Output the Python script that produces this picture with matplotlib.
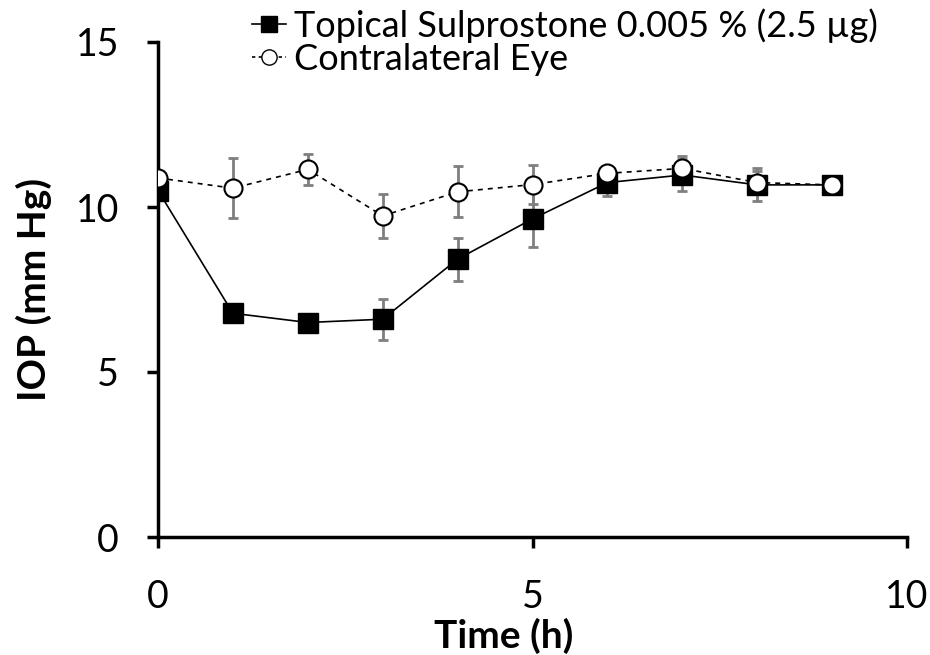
import numpy as np
import matplotlib.pyplot as plt
from matplotlib.lines import Line2D

plt.rcParams['font.family'] = ['Lato', 'DejaVu Sans']

# Data
time_h = [0, 1, 2, 3, 4, 5, 6, 7, 8, 9]
sulpro_iop = [10.5, 6.78, 6.5, 6.6, 8.42, 9.64, 10.74, 10.97, 10.67, 10.67]
sulpro_err = [0.0, 0.0, 0.0, 0.62, 0.65, 0.86, 0.4, 0.47, 0.5, 0.1]
contra_iop = [10.88, 10.57, 11.14, 9.73, 10.46, 10.68, 11.02, 11.17, 10.74, 10.67]
contra_err = [0.0, 0.9, 0.47, 0.67, 0.77, 0.6, 0.1, 0.38, 0.36, 0.1]

labels = ['Topical Sulprostone 0.005 % (2.5 µg)', 'Contralateral Eye']

fig = plt.figure(figsize=(9.3, 6.55), dpi=100)
ax = fig.add_axes([158 / 930, 118 / 655, 749 / 930, 495 / 655])

ax.errorbar(time_h, sulpro_iop, yerr=sulpro_err, fmt='none', ecolor='#7f7f7f',
            elinewidth=2, capsize=3.5, capthick=2, zorder=2)
ax.errorbar(time_h, contra_iop, yerr=contra_err, fmt='none', ecolor='#7f7f7f',
            elinewidth=2, capsize=3.5, capthick=2, zorder=2)
ax.plot(time_h, sulpro_iop, color='black', lw=1.2, marker='s', ms=14,
        mfc='black', mec='black', zorder=3)
ax.plot(time_h, contra_iop, color='black', lw=1.2, ls=(0, (3, 3)), marker='o', ms=13,
        mfc='white', mec='black', mew=1.5, zorder=4)

ax.set_xlim(0, 10)
ax.set_ylim(0, 15)
ax.set_xticks([0, 5, 10])
ax.set_yticks([0, 5, 10, 15])
for s in ['top', 'right']:
    ax.spines[s].set_visible(False)
for s in ['left', 'bottom']:
    ax.spines[s].set_linewidth(2.5)
ax.tick_params(direction='out', length=8, width=2.5, labelsize=27)
ax.tick_params(axis='y', pad=20)
ax.tick_params(axis='x', pad=22)
ax.set_xlabel('Time (h)', fontsize=28, fontweight='bold')
ax.set_ylabel('IOP (mm Hg)', fontsize=28, fontweight='bold')
ax.xaxis.set_label_coords(0.462, -0.163)
ax.yaxis.set_label_coords(-0.142, 0.5)
for lab in ax.get_xticklabels() + ax.get_yticklabels():
    lab.set_clip_on(False)

handles = [
    Line2D([], [], color='black', lw=1.2, marker='s', ms=11, mfc='black'),
    Line2D([], [], color='black', lw=1.2, ls=(0, (2, 2)), marker='o', ms=11,
           mfc='white', mew=1),
]
fig.legend(handles, labels, loc='upper left', bbox_to_anchor=(252 / 930, 0.988),
           frameon=False, fontsize=26, handlelength=0.95, handletextpad=0.2,
           labelspacing=0.0, borderaxespad=0.0, borderpad=0.0)

fig.savefig('out.png', dpi=100)
